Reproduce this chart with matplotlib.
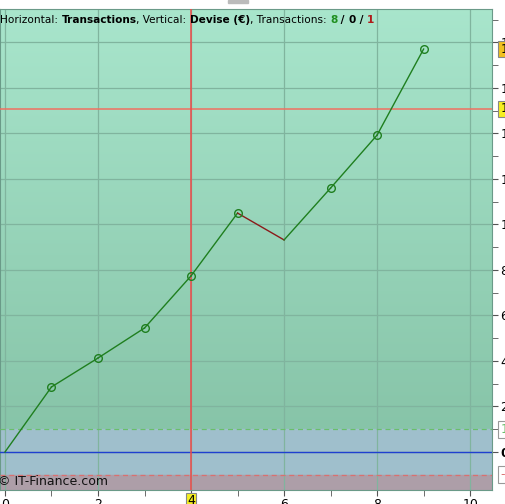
import matplotlib.pyplot as plt
import matplotlib.patches as patches
import numpy as np

# trade equity curve (Devise, EUR) after each transaction
trades = [0, 1, 2, 3, 4, 5, 6, 7, 8, 9]
equity = [0, 2.86, 4.13, 5.45, 7.74, 10.5, 9.32, 11.6, 13.93, 17.71]
wins, neutral, losses = 8, 0, 1
upper_band = 1.0
lower_band = -1.0
cross_x = 4
cross_y = 15.08

x_ticks = [0, 2, 4, 6, 8, 10]
y_ticks = [0, 2, 4, 6, 8, 10, 12, 14, 16, 18]

fig = plt.figure(figsize=(5.06, 5.04), dpi=100)
ax = fig.add_axes([0.0, 1 - 490 / 504, 492 / 506, (490 - 9) / 504])
xmin, xmax = -0.107, 10.47
ymin, ymax = -1.67, 19.47
ax.set_xlim(xmin, xmax)
ax.set_ylim(ymin, ymax)

# background zones
grad = np.linspace(0, 1, 256).reshape(-1, 1)
top = np.array([0.66, 0.90, 0.80])
bot = np.array([0.53, 0.77, 0.66])
img = top * (1 - grad[..., None]) + bot * grad[..., None]
ax.imshow(img, extent=[xmin, xmax, upper_band, ymax], aspect="auto", zorder=0)
ax.axhspan(lower_band, upper_band, color="#9fbfcc", zorder=0)
ax.axhspan(ymin, lower_band, color="#ad9ea8", zorder=0)

ax.set_xticks(x_ticks)
ax.set_yticks(y_ticks)
ax.set_xticks(np.arange(1, 11, 2), minor=True)
ax.set_yticks(np.arange(1, 20, 2), minor=True)
ax.grid(True, which="major", color="#80b49e", lw=0.9)
ax.yaxis.tick_right()
ax.tick_params(axis="both", which="both", direction="out", length=4, color="#555555",
               labelsize=9, pad=2)
ax.tick_params(axis="y", labelleft=False)
for s in ax.spines.values():
    s.set_color("#6a9a88")
for lab in ax.get_yticklabels():
    if lab.get_text() == "0":
        lab.set_fontweight("bold")

ax.axhline(0, color="#1f3fd0", lw=1.0, zorder=3)
ax.axhline(upper_band, color="#6abf6a", lw=0.9, ls=(0, (4, 3)), zorder=3)
ax.axhline(lower_band, color="#d97070", lw=0.9, ls=(0, (4, 3)), zorder=3)
ax.axhline(cross_y, color="#f07060", lw=1.1, zorder=3)
ax.axvline(cross_x, color="#f04848", lw=1.1, zorder=3)

# equity line, losing segments in dark red
for i in range(len(trades) - 1):
    col = "#1f7f1f" if equity[i + 1] >= equity[i] else "#8b1a1a"
    ax.plot(trades[i:i + 2], equity[i:i + 2], color=col, lw=1.0, zorder=4)
mk_x = [t for i, t in enumerate(trades) if i > 0 and equity[i] >= equity[i - 1]]
mk_y = [e for i, e in enumerate(equity) if i > 0 and equity[i] >= equity[i - 1]]
ax.plot(mk_x, mk_y, "o", ms=5.5, mfc="none", mec="#1f7f1f", mew=1.0, zorder=5)

# right side value boxes
def ybox(val, text, fc, ec, tc):
    ax.annotate(text, xy=(1, val), xycoords=("axes fraction", "data"),
                xytext=(6, 0), textcoords="offset points", va="center", ha="left",
                fontsize=9, color=tc, annotation_clip=False, zorder=10,
                bbox=dict(boxstyle="square,pad=0.15", fc=fc, ec=ec, lw=0.8))

ybox(upper_band, "1", "white", "#999999", "#6abf6a")
ybox(lower_band, "-1", "white", "#999999", "#d97070")
ybox(cross_y, "15.08", "#f5ee20", "#888888", "black")
ybox(equity[-1], "17.71", "#f0c020", "#888888", "black")

ax.annotate(str(cross_x), xy=(cross_x, 0), xycoords=("data", "axes fraction"),
            xytext=(0, -3), textcoords="offset points", ha="center", va="top",
            fontsize=9, annotation_clip=False,
            bbox=dict(boxstyle="square,pad=0.1", fc="#f5ee20", ec="#888888", lw=0.8))
for lab in ax.get_xticklabels():
    if lab.get_text() == str(cross_x):
        lab.set_alpha(0)

# title line, pieces chained one after another
pieces = [("Horizontal: ", "normal", "black"), ("Transactions", "bold", "black"),
          (", Vertical: ", "normal", "black"), ("Devise (\u20ac)", "bold", "black"),
          (", Transactions: ", "normal", "black"), (str(wins), "bold", "#1f8f1f"),
          (" / ", "bold", "black"), (str(neutral), "bold", "black"),
          (" / ", "bold", "black"), (str(losses), "bold", "#b01a1a")]
fs = 7.6
prev = ax.text(0.0, 0.988, pieces[0][0], transform=ax.transAxes, fontsize=fs,
               fontweight=pieces[0][1], color=pieces[0][2], va="top", ha="left", zorder=6)
for txt, w, c in pieces[1:]:
    prev = ax.annotate(txt, xy=(1, 0), xycoords=prev, va="bottom", ha="left",
                       fontsize=fs, fontweight=w, color=c, zorder=6)

ax.text(-0.004, 0.004, "\u00a9 IT-Finance.com", transform=ax.transAxes, fontsize=9,
        va="bottom", ha="left", color="#111111", zorder=6)

fig.add_artist(patches.Rectangle((228 / 506, 1 - 3 / 504), 20 / 506, 3 / 504,
                                 transform=fig.transFigure, color="#bbbbbb"))

fig.savefig("out.png", dpi=100)
